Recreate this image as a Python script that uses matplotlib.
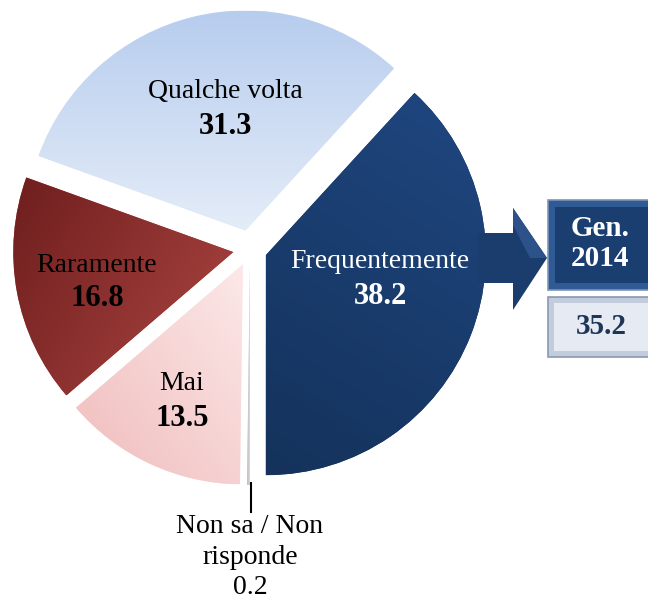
import numpy as np
import matplotlib.pyplot as plt
from matplotlib.patches import Rectangle, Polygon
from matplotlib.colors import to_rgb

plt.rcParams['font.family'] = ['Liberation Serif', 'DejaVu Serif']

# data
labels = ["Frequentemente", "Non sa / Non\nrisponde", "Mai", "Raramente", "Qualche volta"]
values = [38.2, 0.2, 13.5, 16.8, 31.3]
prev_label = ["Gen.", "2014"]
prev_value = 35.2

# gradient colours for each slice (start, end, direction in degrees)
grads = [("#1f4781", "#14325b", 250),
         ("#bdbdbd", "#d9d9d9", 0),
         ("#f0bcbc", "#fce8e8", 45),
         ("#6e1e1e", "#ad4642", -30),
         ("#b7cdee", "#e4ecf8", -90)]
# explode offsets in pixels (pie uses data units)
explode = [17, 16, 17, 17, 19]

W, H = 648, 603
fig = plt.figure(figsize=(W / 100, H / 100), dpi=100)
ax = fig.add_axes([0, 0, 1, 1])


def Y(py):
    return H - py


wedges, _ = ax.pie(values, explode=explode, startangle=47.5, counterclock=False,
                   radius=220, center=(250, Y(249)),
                   colors=[g[1] for g in grads],
                   wedgeprops=dict(linewidth=0))


def fill_gradient(patch, c1, c2, angle):
    ext = patch.get_path().get_extents()
    n = 200
    xx, yy = np.meshgrid(np.linspace(0, 1, n), np.linspace(0, 1, n))
    a = np.deg2rad(angle)
    t = xx * np.cos(a) + yy * np.sin(a)
    t = (t - t.min()) / (t.max() - t.min())
    c1, c2 = np.array(to_rgb(c1)), np.array(to_rgb(c2))
    img = c1[None, None, :] * (1 - t[..., None]) + c2[None, None, :] * t[..., None]
    im = ax.imshow(img, extent=[ext.x0, ext.x1, ext.y0, ext.y1], origin='lower',
                   zorder=patch.get_zorder() + 0.1, interpolation='bilinear')
    im.set_clip_path(patch)


for w, g in zip(wedges, grads):
    fill_gradient(w, g[0], g[1], g[2])

# slice labels
label_pos = [(380, 262, 296, "white"), None, (182, 383, 418, "black"),
             (97, 265, 299, "black"), (225, 92, 126, "black")]
for lab, val, pos in zip(labels, values, label_pos):
    if pos is None:
        continue
    x, yn, yv, col = pos
    ax.text(x, Y(yn), lab, ha='center', va='center', fontsize=20, color=col, zorder=5)
    ax.text(x, Y(yv), f"{val:.1f}", ha='center', va='center', fontsize=22,
            fontweight='bold', color=col, zorder=5)

# Non sa label with leader line
ax.plot([251, 251], [Y(483), Y(512)], color='black', lw=1.5, zorder=5)
ax.text(250, Y(557), labels[1] + f"\n{values[1]:.1f}", ha='center', va='center',
        fontsize=20, linespacing=1.28, zorder=5)

# arrow towards previous value box
arrow = Polygon([(478, Y(233)), (513, Y(233)), (513, Y(208)), (547, Y(258)),
                 (513, Y(310)), (513, Y(283)), (478, Y(283))],
                closed=True, facecolor='#1b3d6d', edgecolor='none', zorder=3)
ax.add_patch(arrow)
ax.add_patch(Polygon([(513, Y(208)), (547, Y(258)), (530, Y(258)), (513, Y(225))],
                     closed=True, facecolor='#2c5289', edgecolor='none', zorder=3.1))

# "Gen. 2014" box
ax.add_patch(Rectangle((548, Y(290)), 110, 90, facecolor='#2f5a93',
                       edgecolor='#7d95bb', lw=1.2, zorder=3))
ax.add_patch(Rectangle((555, Y(283)), 100, 76, facecolor='#1b3e70',
                       edgecolor='none', zorder=3.1))
ax.text(600, Y(228), prev_label[0], ha='center', va='center', fontsize=21,
        fontweight='bold', color='white', zorder=5)
ax.text(600, Y(259), prev_label[1], ha='center', va='center', fontsize=21,
        fontweight='bold', color='white', zorder=5)

# previous value box
ax.add_patch(Rectangle((548, Y(357)), 110, 60, facecolor='#c3ccdc',
                       edgecolor='#8a98b2', lw=1.2, zorder=3))
ax.add_patch(Rectangle((554, Y(351)), 100, 48, facecolor='#e6ebf3',
                       edgecolor='none', zorder=3.1))
ax.text(601, Y(327), f"{prev_value:.1f}", ha='center', va='center', fontsize=21,
        fontweight='bold', color='#1f3558', zorder=5)

ax.set_xlim(0, W)
ax.set_ylim(0, H)
ax.set_aspect('auto')
ax.axis('off')
fig.savefig("out.png", dpi=100)
